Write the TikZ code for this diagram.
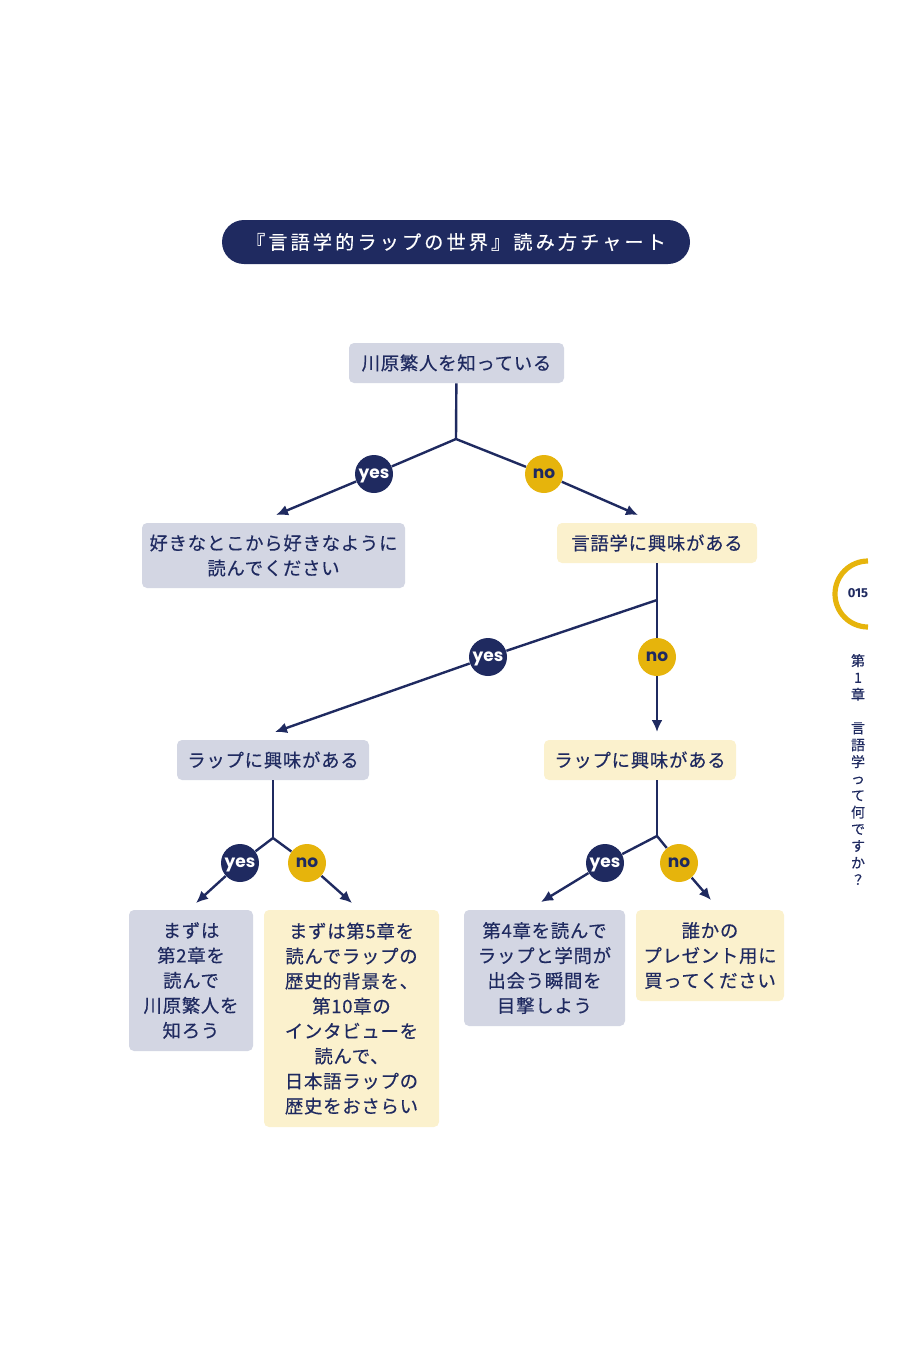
\documentclass[tikz,border=0pt]{standalone}
\usepackage{fontspec}
\usepackage{xcolor}
\usetikzlibrary{arrows.meta,positioning}
\setmainfont{Noto Sans CJK JP}[LetterSpace=4,FakeBold=0.35]
\newfontfamily\ynfont{Poppins}
\newfontfamily\numfont{Fira Sans}
\definecolor{navy}{HTML}{1F2A60}
\definecolor{gold}{HTML}{E6B40C}
\definecolor{mist}{HTML}{D3D6E3}
\definecolor{cream}{HTML}{FBF1CD}
\tikzset{
  graybox/.style={fill=mist,rounded corners=2.5pt,inner sep=2pt,align=center,text=navy,
    font=\fontsize{9.2}{12.5}\selectfont},
  creambox/.style={graybox,fill=cream},
  yesdot/.style={circle,fill=navy,minimum size=19pt,inner sep=0pt,text=white,
    text height=4.6pt,text depth=0pt,
    font=\ynfont\bfseries\fontsize{8.5}{8.5}\selectfont},
  nodot/.style={yesdot,fill=gold,text=navy},
  link/.style={navy,line width=1.2pt},
  pick/.style={link,-{Latex[length=6pt,width=5.5pt]}}
}
\begin{document}
\begin{tikzpicture}[x=0.5pt,y=-0.5pt,>=Latex]
  \useasboundingbox (0,0) rectangle (919,1350);
  % title
  \node[fill=navy,rounded corners=11pt,minimum width=234pt,minimum height=22pt,text=white,
    font=\fontsize{9.6}{9.6}\selectfont\addfontfeature{LetterSpace=16}] (title) at (456,242)
    {『言語学的ラップの世界』読み方チャート};
  % questions
  \node[graybox,minimum width=107.5pt,minimum height=20pt] (q1) at (456.5,363) {川原繁人を知っている};
  \node[creambox,minimum width=100pt,minimum height=20pt] (q2) at (657,543) {言語学に興味がある};
  \node[graybox,minimum width=96pt,minimum height=20pt] (q3) at (273,760) {ラップに興味がある};
  \node[creambox,minimum width=96pt,minimum height=20pt] (q4) at (640,760) {ラップに興味がある};
  % answers
  \node[graybox,minimum width=131.5pt,minimum height=32.5pt] (a1) at (273.5,555.5)
    {好きなとこから好きなように\\読んでください};
  \node[graybox,minimum width=62pt,minimum height=70.5pt] (a2) at (191,980.5)
    {まずは\\第2章を\\読んで\\川原繁人を\\知ろう};
  \node[creambox,minimum width=87.5pt,minimum height=108.5pt] (a3) at (351.5,1018.5)
    {まずは第5章を\\読んでラップの\\歴史的背景を、\\第10章の\\インタビューを\\読んで、\\日本語ラップの\\歴史をおさらい};
  \node[graybox,minimum width=80.5pt,minimum height=58pt] (a4) at (544.5,968)
    {第4章を読んで\\ラップと学問が\\出会う瞬間を\\目撃しよう};
  \node[creambox,minimum width=74pt,minimum height=45.5pt] (a5) at (710,955.5)
    {誰かの\\プレゼント用に\\買ってください};
  % branch points and arrow ends
  \coordinate (j1) at (456,439);
  \coordinate (j2) at (657,600);
  \coordinate (j3) at (273,838);
  \coordinate (j4) at (657,836);
  \coordinate (t1) at (276,515);
  \coordinate (t2) at (638,515);
  \coordinate (t3) at (275,732);
  \coordinate (t4) at (657,732);
  \coordinate (t5) at (196,903);
  \coordinate (t6) at (352,903);
  \coordinate (t7) at (541,902);
  \coordinate (t8) at (711,900);
  % yes / no
  \foreach \n/\x/\y/\s/\t in {y1/374/474/yesdot/yes, n1/544/474/nodot/no,
      y2/488/657/yesdot/yes, n2/657/657/nodot/no,
      y3/240/863/yesdot/yes, n3/307/863/nodot/no,
      y4/605/863/yesdot/yes, n4/679/863/nodot/no}{
    \node[\s] (\n) at (\x,\y) {\t};
  }
  \draw[link] (q1) -- (j1);
  \draw[link] (q2) -- (j2);
  \draw[link] (q3) -- (j3);
  \draw[link] (j4 |- q4.south) -- (j4);
  \foreach \j/\c/\t in {j1/y1/t1, j1/n1/t2, j2/y2/t3, j2/n2/t4,
      j3/y3/t5, j3/n3/t6, j4/y4/t7, j4/n4/t8}{
    \draw[link] (\j) -- (\c);
    \draw[pick] (\c) -- (\t);
  }
  % page mark
  \draw[gold,line width=2.6pt] (868,561) arc[start angle=90,end angle=270,radius=16.5pt];
  \node[text=navy,font=\numfont\bfseries\fontsize{6.5}{6.5}\selectfont] (folio) at (858,593) {015};
  \node[text=navy,align=center,inner sep=0pt,font=\fontsize{7}{8.42}\selectfont] (chap) at (858,769.5)
    {第\\1\\章\\\mbox{}\\言\\語\\学\\っ\\て\\何\\で\\す\\か\\？};
\end{tikzpicture}
\end{document}
